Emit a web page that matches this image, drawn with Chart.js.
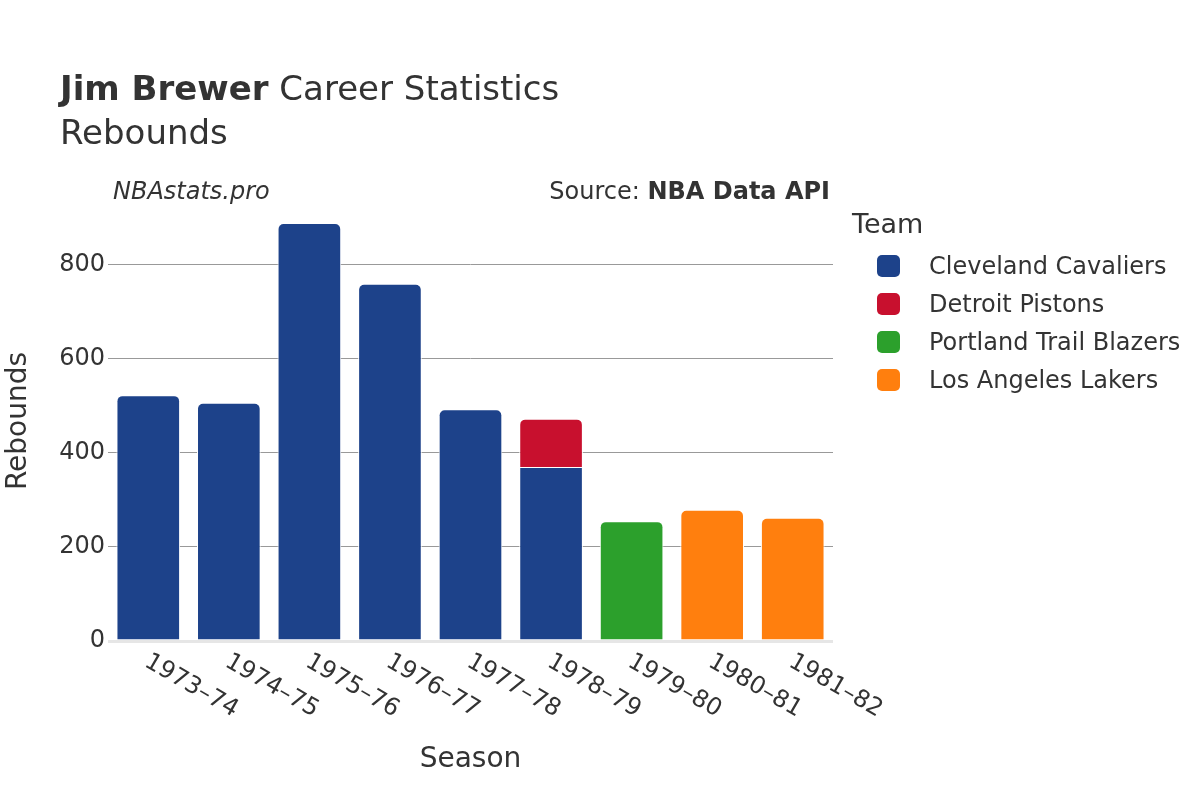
<!DOCTYPE html>
<html>
<head>
<meta charset="utf-8">
<script src="https://cdn.jsdelivr.net/npm/chart.js@4/dist/chart.umd.min.js"></script>
<style>
  body { margin: 0; background: #fff; font-family: "DejaVu Sans", sans-serif; color: #333; }
  #wrap { position: relative; width: 1200px; height: 800px; }
  #chart { position: absolute; left: 0; top: 0; }
  .txt { position: absolute; white-space: nowrap; }
  #title { left: 60px; top: 71px; font-size: 34px; line-height: 34px; }
  #sub { left: 60px; top: 115px; font-size: 34px; line-height: 34px; }
  #brand { left: 113px; top: 179px; font-size: 24px; line-height: 24px; font-style: italic; }
  #source { right: 370px; top: 179px; font-size: 24px; line-height: 24px; }
  #legend { left: 852px; top: 209px; }
  #legend .head { font-size: 27px; line-height: 30px; margin-bottom: 8px; }
  #legend .item { position: relative; height: 38px; font-size: 24px; line-height: 38px; padding-left: 77px; }
  #legend .box { position: absolute; left: 25px; top: 8px; width: 23px; height: 22px; border-radius: 5px; }
</style>
</head>
<body>
<div id="wrap">
  <canvas id="chart" width="1200" height="800"></canvas>
  <div class="txt" id="title"><b>Jim Brewer</b> Career Statistics</div>
  <div class="txt" id="sub">Rebounds</div>
  <div class="txt" id="brand">NBAstats.pro</div>
  <div class="txt" id="source">Source: <b>NBA Data API</b></div>
  <div class="txt" id="legend"></div>
</div>
<script>
const seasons = ["1973–74", "1974–75", "1975–76", "1976–77", "1977–78", "1978–79", "1979–80", "1980–81", "1981–82"];
const teams = ["Cleveland Cavaliers", "Detroit Pistons", "Portland Trail Blazers", "Los Angeles Lakers"];
const teamColors = ["#1d428a", "#c8102e", "#2ca02c", "#ff7f0e"];

const cavaliers = [523, 507, 889, 760, 493, 370, null, null, null];
const pistons = [null, null, null, null, null, 103, null, null, null];
const blazers = [null, null, null, null, null, null, 255, null, null];
const lakers = [null, null, null, null, null, null, null, 279, 262];
const teamValues = [cavaliers, pistons, blazers, lakers];

const yTicks = [0, 200, 400, 600, 800];

Chart.defaults.font.family = '"DejaVu Sans", sans-serif';
Chart.defaults.color = "#333";

// legend
const legend = document.getElementById("legend");
legend.innerHTML = '<div class="head">Team</div>' + teams.map((t, i) =>
  '<div class="item"><span class="box" style="background:' + teamColors[i] + '"></span>' + t + '</div>'
).join("");

// rotated season labels, placed from the x scale
const seasonLabels = {
  id: "seasonLabels",
  afterDraw(chart) {
    const { ctx } = chart;
    const x = chart.scales.x;
    ctx.save();
    ctx.font = '24px "DejaVu Sans"';
    ctx.fillStyle = "#333";
    ctx.textAlign = "left";
    ctx.textBaseline = "middle";
    seasons.forEach((s, i) => {
      const px = x.getPixelForValue(i);
      ctx.save();
      ctx.translate(px - 2, x.top + 19);
      ctx.rotate(Math.PI / 6);
      ctx.fillText(s, 0, 0);
      ctx.restore();
    });
    ctx.restore();
  },
};

new Chart(document.getElementById("chart").getContext("2d"), {
  type: "bar",
  data: {
    labels: seasons,
    datasets: teams.map((t, i) => ({
      label: t,
      data: teamValues[i],
      backgroundColor: teamColors[i],
      borderColor: "#fff",
      borderWidth: 1,
      borderSkipped: "start",
      borderRadius: 6,
      barPercentage: 0.79,
      categoryPercentage: 1,
    })),
  },
  options: {
    responsive: false,
    animation: false,
    layout: { padding: { top: 201, right: 367, left: 0, bottom: 0 } },
    plugins: {
      legend: { display: false },
      tooltip: { enabled: false },
    },
    scales: {
      x: {
        stacked: true,
        grid: { display: false },
        border: { display: false },
        ticks: { display: false },
        title: { display: true, text: "Season", font: { size: 28 }, color: "#333", padding: { top: 0, bottom: 23 } },
        afterFit: (s) => { s.height = 159; },
      },
      y: {
        stacked: true,
        min: 0,
        max: 936,
        afterBuildTicks: (s) => { s.ticks = yTicks.map((v) => ({ value: v })); },
        ticks: { font: { size: 24 }, color: "#333", padding: 3 },
        grid: {
          drawTicks: false,
          color: (c) => (c.tick && c.tick.value === 0 ? "#e6e6e6" : "#999"),
          lineWidth: (c) => (c.tick && c.tick.value === 0 ? 3 : 1),
        },
        border: { display: false },
        title: { display: true, text: "Rebounds", font: { size: 28 }, color: "#333", padding: { top: 2, bottom: 0 } },
        afterFit: (s) => { s.width = 108; },
      },
    },
  },
  plugins: [seasonLabels],
});
</script>
</body>
</html>
